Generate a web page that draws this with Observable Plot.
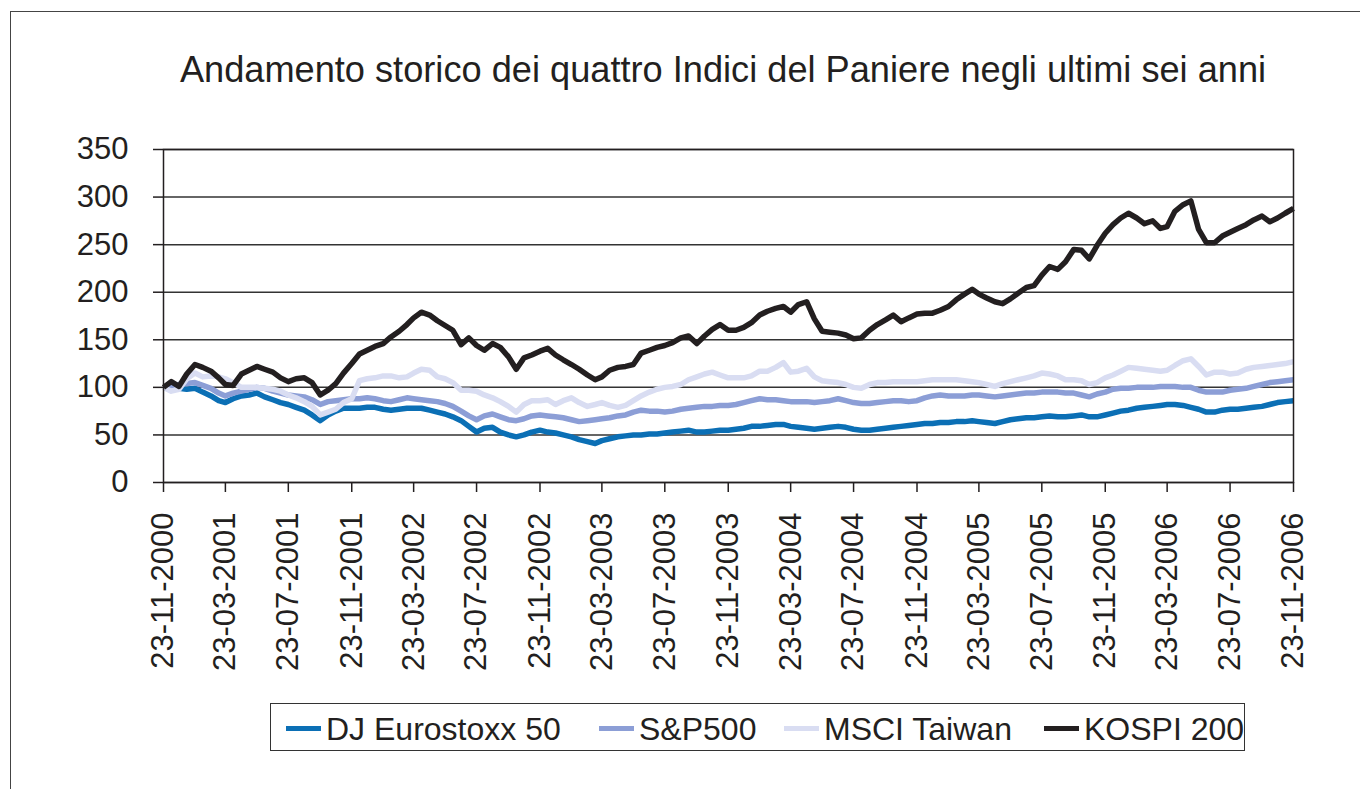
<!DOCTYPE html>
<html>
<head>
<meta charset="utf-8">
<script src="https://cdn.jsdelivr.net/npm/d3@7"></script>
<script src="https://cdn.jsdelivr.net/npm/@observablehq/plot@0.6"></script>
<style>
  html, body { margin: 0; padding: 0; background: #fff; }
  body { width: 1360px; height: 789px; position: relative; overflow: hidden;
         font-family: "Liberation Sans", Arial, Helvetica, sans-serif; color: #231f20; }
  #frame { position: absolute; left: 10px; top: 11px; width: 1400px; height: 900px;
           border: 1.5px solid #444; box-sizing: border-box; }
  #title { position: absolute; left: 123px; width: 1200px; top: 52px; text-align: center;
           font-size: 36.2px; line-height: 36px; white-space: nowrap; }
  #chart { position: absolute; left: 0; top: 130px; }
  #legend { position: absolute; left: 270px; top: 703px; width: 975px; height: 48px;
            border: 1.5px solid #333; box-sizing: border-box; }
  .sw { position: absolute; height: 5px; width: 35px; top: 22px; }
  .lt { position: absolute; top: 9px; font-size: 32px; line-height: 32px; white-space: nowrap; }
</style>
</head>
<body>
<div id="frame"></div>
<div id="title">Andamento storico dei quattro Indici del Paniere negli ultimi sei anni</div>
<div id="chart"></div>
<div id="legend"></div>
<script>
// ---- Data (semi-monthly samples, 23-11-2000 .. 23-11-2006) ----
const seriesNames = ["DJ Eurostoxx 50", "S&P500", "MSCI Taiwan", "KOSPI 200"];
const seriesColors = ["#0b6fb5", "#8c9ed6", "#d9ddf2", "#231f20"];

const eurostoxx = [100,99,99,98,99,95,91,86,84,88,91,92,94,90,87,84,82,79,76,71,
  65,71,75,78,78,78,79,79,77,76,77,78,78,78,76,74,72,69,65,59,
  53,57,58,53,50,48,50,53,55,53,52,50,48,45,43,41,44,46,48,49,
  50,50,51,51,52,53,54,55,53,53,54,55,55,56,57,59,59,60,61,61,
  59,58,57,56,57,58,59,58,56,55,55,56,57,58,59,60,61,62,62,63,
  63,64,64,65,64,63,62,64,66,67,68,68,69,70,69,69,70,71,69,69,
  71,73,75,76,78,79,80,81,82,82,81,79,77,74,74,76,77,77,78,79,
  80,82,84,85,86];

const sp500 = [100,101,103,104,105,102,99,94,91,94,96,98,100,99,96,94,92,91,90,87,
  82,85,86,87,88,88,89,88,86,85,87,89,88,87,86,85,83,80,75,70,
  66,70,72,69,66,65,67,70,71,70,69,68,66,64,65,66,67,68,70,71,
  74,76,75,75,74,75,77,78,79,80,80,81,81,82,84,86,88,87,87,86,
  85,85,85,84,85,86,88,86,84,83,83,84,85,86,86,85,86,89,91,92,
  91,91,91,92,92,91,90,91,92,93,94,94,95,95,95,94,94,92,90,93,
  95,98,99,99,100,100,100,101,101,101,100,100,97,95,95,95,97,98,99,101,
  103,105,106,107,108];

const taiwan = [100,96,98,109,115,111,112,111,109,105,100,100,100,99,98,96,92,89,85,80,
  71,74,77,84,88,107,109,110,112,112,110,111,115,119,118,111,109,105,97,97,
  96,92,89,85,80,74,82,86,86,87,82,86,89,84,80,82,84,81,79,81,
  86,91,95,98,100,101,103,108,111,114,116,113,110,110,110,112,117,117,121,126,
  116,117,120,111,107,106,105,103,100,99,103,105,105,106,106,106,106,107,108,108,
  108,108,107,106,105,103,101,104,106,108,110,112,115,114,112,108,108,107,103,105,
  110,113,117,121,120,119,118,117,118,123,128,130,122,113,116,116,114,115,119,121,
  122,123,124,125,127];

const kospi = [100,106,101,114,124,121,117,110,103,102,114,118,122,119,116,110,106,109,110,105,
  92,97,104,115,125,135,139,143,146,153,159,166,173,179,176,170,165,160,145,152,
  144,139,146,142,132,119,131,134,138,141,134,129,124,119,113,108,111,118,121,122,
  124,136,139,142,144,147,152,154,146,154,161,166,160,160,163,168,176,180,183,185,
  179,187,190,172,159,158,157,155,151,152,160,166,171,176,169,173,177,178,178,181,
  185,192,198,203,198,194,190,188,193,199,205,207,218,227,224,232,245,244,235,249,
  262,271,278,283,278,272,275,267,269,285,292,296,266,252,252,259,263,267,271,276,
  280,274,278,283,288];

const yTicks = [0, 50, 100, 150, 200, 250, 300, 350];
const xTickLabels = ["23-11-2000","23-03-2001","23-07-2001","23-11-2001","23-03-2002","23-07-2002",
  "23-11-2002","23-03-2003","23-07-2003","23-11-2003","23-03-2004","23-07-2004","23-11-2004",
  "23-03-2005","23-07-2005","23-11-2005","23-03-2006","23-07-2006","23-11-2006"];

// ---- Build table ----
const parseDMY = d3.utcParse("%d-%m-%Y");
const start = parseDMY("23-11-2000");
function sampleDate(k) {
  const base = d3.utcMonth.offset(start, Math.floor(k / 2));
  return k % 2 ? d3.utcDay.offset(base, 15) : base;
}
const allValues = [eurostoxx, sp500, taiwan, kospi];
const tables = allValues.map((vals, i) =>
  vals.map((v, k) => ({ date: sampleDate(k), value: v, series: seriesNames[i] })));
const tickDates = xTickLabels.map(parseDMY);
const fmt = d3.utcFormat("%d-%m-%Y");

const chart = Plot.plot({
  width: 1360,
  height: 560,
  marginLeft: 163,
  marginRight: 67,
  marginTop: 19,
  marginBottom: 208,
  style: { fontFamily: "'Liberation Sans', Arial, Helvetica, sans-serif", fontSize: "31px",
           color: "#231f20", background: "transparent", overflow: "visible" },
  x: { type: "utc", domain: [tickDates[0], tickDates[tickDates.length - 1]] },
  y: { domain: [0, 350] },
  color: { domain: seriesNames, range: seriesColors },
  marks: [
    Plot.gridY(yTicks, { stroke: "#333", strokeOpacity: 1, strokeWidth: 1.5 }),
    Plot.axisY(yTicks, { tickSize: 10, tickPadding: 25, stroke: "#231f20", strokeWidth: 1.5,
                         fontSize: 31, tickFormat: d => String(d), label: null }),
    Plot.axisX(tickDates, { tickSize: 10, tickPadding: 20, tickRotate: -90, stroke: "#231f20",
                            strokeWidth: 1.5, fontSize: 31, tickFormat: fmt, label: null }),
    ...tables.map(t => Plot.line(t, { x: "date", y: "value", stroke: "series", strokeWidth: 5.5,
                                       strokeLinejoin: "round", strokeLinecap: "butt" })),
    Plot.frame({ stroke: "#231f20", strokeWidth: 1.5 })
  ]
});
document.getElementById("chart").appendChild(chart);

// ---- Legend ----
const legend = document.getElementById("legend");
const swatchX = [15, 328, 513, 773];
seriesNames.forEach((name, i) => {
  const sw = document.createElement("div");
  sw.className = "sw";
  sw.style.left = swatchX[i] + "px";
  sw.style.background = seriesColors[i];
  legend.appendChild(sw);
  const t = document.createElement("div");
  t.className = "lt";
  t.style.left = (swatchX[i] + 40) + "px";
  t.textContent = name;
  legend.appendChild(t);
});
</script>
</body>
</html>
